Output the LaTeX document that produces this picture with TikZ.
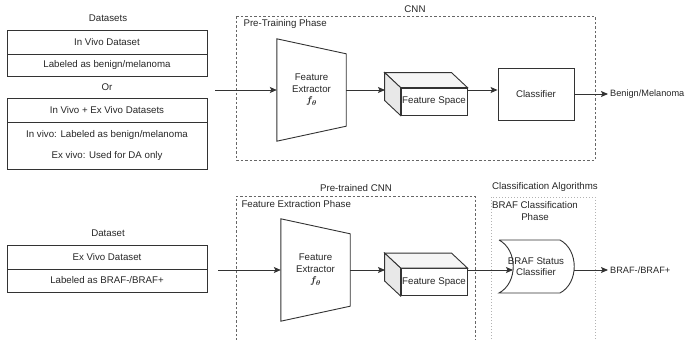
\documentclass[tikz,border=0pt]{standalone}
\usepackage{bm}
\usepackage{fontspec}
\setmainfont{Liberation Sans}
\usetikzlibrary{arrows.meta}
\definecolor{tratto}{HTML}{333333}
\definecolor{testo}{HTML}{262626}
\begin{document}
\begin{tikzpicture}[x=1pt,y=-1pt,>={Stealth[length=7pt,width=6pt,inset=1.5pt]},
		every node/.style={font=\fontsize{9.7}{11.5}\selectfont, text=testo},
		linea/.style={draw=tratto, line width=0.9pt},
		freccia/.style={->, draw=tratto, line width=0.9pt},
		cella/.style={linea, minimum width=200pt, inner sep=0pt},
		uscita/.style={anchor=west, inner sep=2pt, font=\fontsize{9.2}{11}\selectfont},
		riquadro/.style={draw=gray!80!black, line width=0.8pt, dash pattern=on 2.5pt off 2pt},
		riquadrob/.style={draw=gray!60, line width=1pt, dotted},
		]
		\useasboundingbox (0,0) rectangle (686,340);
		% ── Parametri ──
		\def\wfe{69}\def\hfe{72}\def\dfe{15}          % estrattore: larghezza, lato destro, sporgenza
		\def\dxc{16}\def\dyc{15}                       % profondita' del cubo
		% ── Estrattore (trapezio) ──
		\def\estrattore#1#2#3{%
			\node[align=center, minimum width=\wfe pt, minimum height=\hfe pt, inner sep=0pt] (#1) at (#2,#3) {Feature\\Extractor\\$\bm{f_{\theta}}$};
			\draw[linea] ([yshift=\dfe pt]#1.north west) -- (#1.north east) -- (#1.south east) -- ([yshift=-\dfe pt]#1.south west) -- cycle;}
		% ── Cubo: faccia frontale + faccia superiore + fianco ──
		\def\cubo#1#2#3{%
			\node[linea, minimum width=66pt, minimum height=27pt, inner sep=0pt] (#1) at (#2,#3) {Feature Space};
			\draw[linea, fill=gray!8] (#1.north west) -- ++(-\dxc,-\dyc) -- ([shift={(-\dxc,-\dyc)}]#1.north east) -- (#1.north east) -- cycle;
			\draw[linea, fill=gray!18] (#1.north west) -- ++(-\dxc,-\dyc) -- ([shift={(-\dxc,-\dyc)}]#1.south west) -- (#1.south west) -- cycle;}

		% ===================== (a) pre-training =====================
		\node (dsTit) at (108,18) {Datasets};
		\node[cella, minimum height=24pt] (vivo) at (107,42) {In Vivo Dataset};
		\node[cella, minimum height=22pt] (vivoLab) at (107,65) {Labeled as benign/melanoma};
		\node (oppure) at (107,87) {Or};
		\node[cella, minimum height=24pt] (misto) at (107,110) {In Vivo + Ex Vivo Datasets};
		\node[cella, minimum height=47pt] (mistoLab) at (107,145.5) {};
		\node (mistoIn) at (107,135) {In vivo: Labeled as benign/melanoma};
		\node (mistoEx) at (107,156) {Ex vivo: Used for DA only};

		\draw[riquadro] (236,16) rectangle (595,160);
		\node (cnnTit) at (415,9) {CNN};
		\node[anchor=west] (ptTit) at (240,24) {Pre-Training Phase};

		\estrattore{fe1}{311.5}{90}
		\cubo{fs1}{434}{101.5}
		\node[linea, minimum width=76pt, minimum height=52pt] (cls) at (536,94) {Classifier};
		\node[uscita] (benmel) at (608,94) {Benign/Melanoma};

		\coordinate (in1) at (215,90);
		\coordinate (fs1in) at (385,90);
		\draw[freccia] (in1) -- (fe1.west);
		\draw[freccia] (fe1.east) -- (fs1in);
		\draw[freccia] (fs1.north east |- fe1.east) -- (cls.west |- fe1.east);
		\draw[freccia] (cls.east) -- (benmel.west);

		% ===================== (b) estrazione + classificazione BRAF =====================
		\node (dsTit2) at (108,233) {Dataset};
		\node[cella, minimum height=24pt] (exvivo) at (107,257) {Ex Vivo Dataset};
		\node[cella, minimum height=23pt] (exLab) at (107,280.5) {Labeled as BRAF-/BRAF+};

		\draw[riquadro] (236,345) |- (475,196) -- (475,345);
		\node (pcTit) at (356,188) {Pre-trained CNN};
		\node[anchor=west] (feTit) at (238,204) {Feature Extraction Phase};
		\draw[riquadrob] (491,345) |- (595,197) -- (595,345);
		\node (caTit) at (545,187) {Classification Algorithms};
		\node[align=center] (bcTit) at (535,211) {BRAF Classification\\Phase};

		\estrattore{fe2}{315.5}{270}
		\cubo{fs2}{434}{282}
		% classificatore BRAF: sinistra concava, destra convessa
		\draw[linea] (499,240) -- (560,240) .. controls (579,250) and (579,283) .. (560,293)
			-- (499,293) .. controls (518,283) and (518,250) .. (499,240);
		\node[align=center] (braf) at (536,266.5) {BRAF Status\\Classifier};
		\node[uscita] (brafRis) at (608,270) {BRAF-/BRAF+};

		\coordinate (in2) at (218,270);
		\coordinate (fs2in) at (385,270);
		\coordinate (brafIn) at (513,270);
		\coordinate (brafOut) at (574,270);
		\draw[freccia] (in2) -- (fe2.west);
		\draw[freccia] (fe2.east) -- (fs2in);
		\draw[freccia] (fs2.north east |- fe2.east) -- (brafIn);
		\draw[freccia] (brafOut) -- (brafRis.west);
\end{tikzpicture}
\end{document}
